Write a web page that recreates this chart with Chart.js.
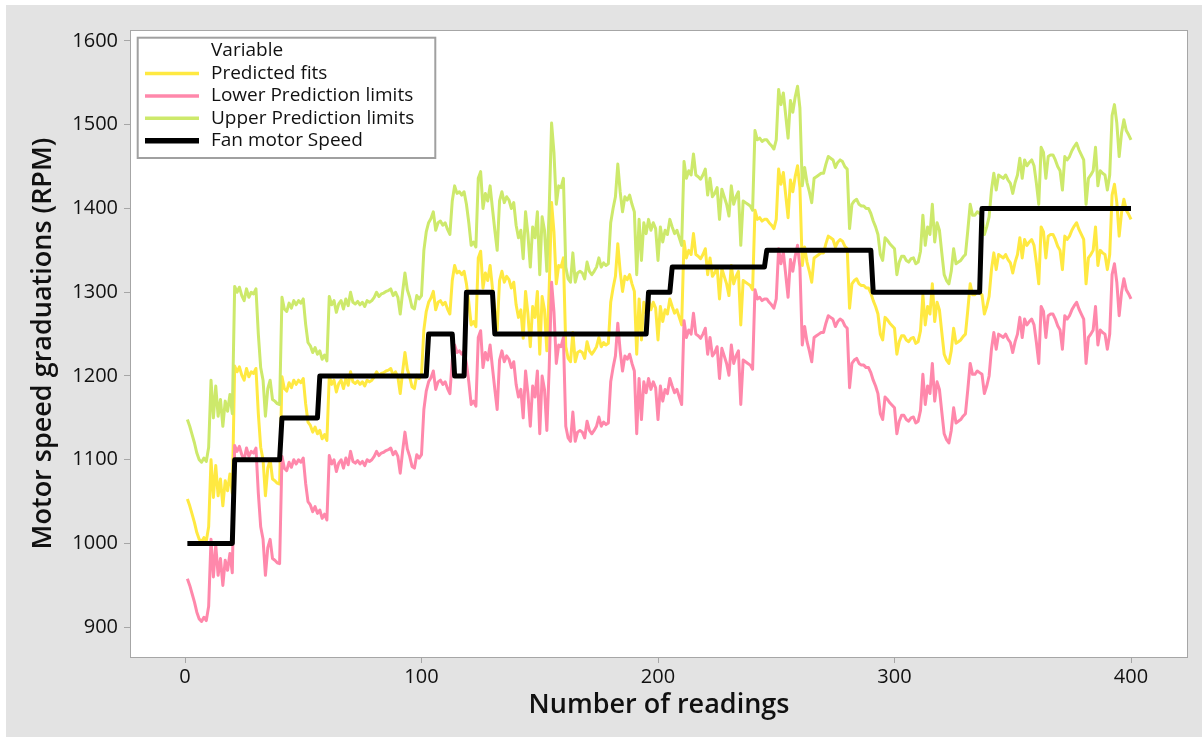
<!DOCTYPE html>
<html>
<head>
<meta charset="utf-8">
<script src="https://cdn.jsdelivr.net/npm/chart.js@4.4.1/dist/chart.umd.min.js"></script>
<style>
  html, body { margin: 0; padding: 0; background: #ffffff; }
  canvas { display: block; }
</style>
</head>
<body>
<canvas id="chart" width="1202" height="738"></canvas>
<script>
// Axis ticks
const xTickValues = [0, 100, 200, 300, 400];
const yTickValues = [900, 1000, 1100, 1200, 1300, 1400, 1500, 1600];

// Series names (legend order)
const seriesLabels = ['Predicted fits', 'Lower Prediction limits', 'Upper Prediction limits', 'Fan motor Speed'];

// Predicted fits, readings 1..400
const predictedFits = [
  1053,1045,1035,1025,1013,1005,1002,1007,1003,1020, 1100,1055,1093,1057,1077,1045,1075,1063,1083,1060,
  1212,1205,1211,1201,1195,1209,1199,1205,1203,1209, 1155,1115,1100,1057,1090,1100,1077,1075,1072,1071,
  1199,1185,1182,1192,1186,1195,1190,1195,1192,1197, 1167,1145,1141,1133,1139,1131,1135,1125,1130,1123,
  1200,1190,1195,1181,1191,1195,1185,1197,1189,1205, 1193,1191,1194,1190,1193,1188,1195,1193,1195,1199,
  1205,1200,1203,1204,1206,1207,1209,1201,1205,1199, 1179,1205,1228,1208,1199,1187,1185,1201,1197,1201,
  1255,1277,1288,1293,1301,1279,1288,1290,1285,1288, 1280,1274,1314,1332,1323,1325,1321,1325,1310,1288,
  1261,1265,1259,1341,1349,1305,1323,1314,1332,1305, 1279,1255,1314,1325,1312,1319,1315,1305,1312,1285,
  1270,1279,1245,1301,1274,1235,1283,1270,1301,1226, 1295,1279,1230,1305,1407,1372,1310,1332,1330,1341,
  1235,1221,1217,1252,1217,1228,1230,1228,1221,1241, 1230,1226,1230,1235,1246,1235,1240,1237,1239,1288,
  1305,1319,1358,1325,1301,1319,1315,1321,1310,1301, 1226,1292,1243,1288,1275,1292,1279,1288,1281,1243,
  1283,1265,1279,1274,1292,1283,1275,1279,1270,1261, 1361,1341,1350,1345,1370,1345,1343,1340,1345,1352,
  1321,1341,1319,1323,1330,1292,1328,1319,1310,1296, 1332,1310,1319,1325,1261,1314,1312,1310,1308,1303,
  1398,1387,1389,1385,1387,1387,1383,1380,1376,1387, 1447,1429,1443,1416,1389,1434,1420,1438,1451,1425,
  1332,1354,1336,1325,1312,1341,1343,1345,1347,1347, 1358,1367,1365,1363,1354,1360,1363,1361,1355,1352,
  1281,1310,1314,1316,1310,1308,1308,1305,1305,1299, 1290,1283,1274,1250,1243,1270,1267,1263,1260,1257,
  1226,1241,1248,1248,1243,1241,1245,1246,1239,1241, 1254,1297,1261,1283,1274,1310,1265,1288,1279,1252,
  1226,1219,1215,1230,1257,1239,1241,1243,1247,1250, 1279,1310,1297,1297,1301,1299,1297,1274,1283,1295,
  1327,1347,1327,1345,1343,1341,1345,1339,1335,1323, 1336,1345,1365,1341,1363,1356,1360,1363,1356,1335,
  1310,1378,1372,1341,1367,1369,1369,1363,1355,1350, 1327,1367,1363,1367,1374,1379,1383,1375,1369,1363,
  1310,1341,1345,1350,1378,1332,1350,1347,1345,1327, 1345,1416,1429,1407,1367,1395,1411,1398,1393,1387
];

// Lower prediction limits, readings 1..400
const lowerLimits = [
  958,950,940,930,918,910,907,912,908,925, 1005,960,998,962,982,950,980,968,988,965,
  1117,1110,1116,1106,1100,1114,1104,1110,1108,1114, 1060,1020,1005,962,995,1005,982,980,977,976,
  1104,1090,1087,1097,1091,1100,1095,1100,1097,1102, 1072,1050,1046,1038,1044,1036,1040,1030,1035,1028,
  1105,1095,1100,1086,1096,1100,1090,1102,1094,1110, 1098,1096,1099,1095,1098,1093,1100,1098,1100,1104,
  1110,1105,1108,1109,1111,1112,1114,1106,1110,1104, 1084,1110,1133,1113,1104,1092,1090,1106,1102,1106,
  1160,1182,1193,1198,1206,1184,1193,1195,1190,1193, 1185,1179,1219,1237,1228,1230,1226,1230,1215,1193,
  1166,1170,1164,1246,1254,1210,1228,1219,1237,1210, 1184,1160,1219,1230,1217,1224,1220,1210,1217,1190,
  1175,1184,1150,1206,1179,1140,1188,1175,1206,1131, 1200,1184,1135,1210,1312,1277,1215,1237,1235,1246,
  1140,1126,1122,1157,1122,1133,1135,1133,1126,1146, 1135,1131,1135,1140,1151,1140,1145,1142,1144,1193,
  1210,1224,1263,1230,1206,1224,1220,1226,1215,1206, 1131,1197,1148,1193,1180,1197,1184,1193,1186,1148,
  1188,1170,1184,1179,1197,1188,1180,1184,1175,1166, 1266,1246,1255,1250,1275,1250,1248,1245,1250,1257,
  1226,1246,1224,1228,1235,1197,1233,1224,1215,1201, 1237,1215,1224,1230,1166,1219,1217,1215,1213,1208,
  1303,1292,1294,1290,1292,1292,1288,1285,1281,1292, 1352,1334,1348,1321,1294,1339,1325,1343,1356,1330,
  1237,1259,1241,1230,1217,1246,1248,1250,1252,1252, 1263,1272,1270,1268,1259,1265,1268,1266,1260,1257,
  1186,1215,1219,1221,1215,1213,1213,1210,1210,1204, 1195,1188,1179,1155,1148,1175,1172,1168,1165,1162,
  1131,1146,1153,1153,1148,1146,1150,1151,1144,1146, 1159,1202,1166,1188,1179,1215,1170,1193,1184,1157,
  1131,1124,1120,1135,1162,1144,1146,1148,1152,1155, 1184,1215,1202,1202,1206,1204,1202,1179,1188,1200,
  1232,1252,1232,1250,1248,1246,1250,1244,1240,1228, 1241,1250,1270,1246,1268,1261,1265,1268,1261,1240,
  1215,1283,1277,1246,1272,1274,1274,1268,1260,1255, 1232,1272,1268,1272,1279,1284,1288,1280,1274,1268,
  1215,1246,1250,1255,1283,1237,1255,1252,1250,1232, 1250,1321,1334,1312,1272,1300,1316,1303,1298,1292
];

// Upper prediction limits, readings 1..400
const upperLimits = [
  1148,1140,1130,1120,1108,1100,1097,1102,1098,1115, 1195,1150,1188,1152,1172,1140,1170,1158,1178,1155,
  1307,1300,1306,1296,1290,1304,1294,1300,1298,1304, 1250,1210,1195,1152,1185,1195,1172,1170,1167,1166,
  1294,1280,1277,1287,1281,1290,1285,1290,1287,1292, 1262,1240,1236,1228,1234,1226,1230,1220,1225,1218,
  1295,1285,1290,1276,1286,1290,1280,1292,1284,1300, 1288,1286,1289,1285,1288,1283,1290,1288,1290,1294,
  1300,1295,1298,1299,1301,1302,1304,1296,1300,1294, 1274,1300,1323,1303,1294,1282,1280,1296,1292,1296,
  1350,1372,1383,1388,1396,1374,1383,1385,1380,1383, 1375,1369,1409,1427,1418,1420,1416,1420,1405,1383,
  1356,1360,1354,1436,1444,1400,1418,1409,1427,1400, 1374,1350,1409,1420,1407,1414,1410,1400,1407,1380,
  1365,1374,1340,1396,1369,1330,1378,1365,1396,1321, 1390,1374,1325,1400,1502,1467,1405,1427,1425,1436,
  1330,1316,1312,1347,1312,1323,1325,1323,1316,1336, 1325,1321,1325,1330,1341,1330,1335,1332,1334,1383,
  1400,1414,1453,1420,1396,1414,1410,1416,1405,1396, 1321,1387,1338,1383,1370,1387,1374,1383,1376,1338,
  1378,1360,1374,1369,1387,1378,1370,1374,1365,1356, 1456,1436,1445,1440,1465,1440,1438,1435,1440,1447,
  1416,1436,1414,1418,1425,1387,1423,1414,1405,1391, 1427,1405,1414,1420,1356,1409,1407,1405,1403,1398,
  1493,1482,1484,1480,1482,1482,1478,1475,1471,1482, 1542,1524,1538,1511,1484,1529,1515,1533,1546,1520,
  1427,1449,1431,1420,1407,1436,1438,1440,1442,1442, 1453,1462,1460,1458,1449,1455,1458,1456,1450,1447,
  1376,1405,1409,1411,1405,1403,1403,1400,1400,1394, 1385,1378,1369,1345,1338,1365,1362,1358,1355,1352,
  1321,1336,1343,1343,1338,1336,1340,1341,1334,1336, 1349,1392,1356,1378,1369,1405,1360,1383,1374,1347,
  1321,1314,1310,1325,1352,1334,1336,1338,1342,1345, 1374,1405,1392,1392,1396,1394,1392,1369,1378,1390,
  1422,1442,1422,1440,1438,1436,1440,1434,1430,1418, 1431,1440,1460,1436,1458,1451,1455,1458,1451,1430,
  1405,1473,1467,1436,1462,1464,1464,1458,1450,1445, 1422,1462,1458,1462,1469,1474,1478,1470,1464,1458,
  1405,1436,1440,1445,1473,1427,1445,1442,1440,1422, 1440,1511,1524,1502,1462,1490,1506,1493,1488,1482
];

// Fan motor speed set points, readings 1..400
const fanMotorSpeed = [
  1000,1000,1000,1000,1000,1000,1000,1000,1000,1000, 1000,1000,1000,1000,1000,1000,1000,1000,1000,1000,
  1100,1100,1100,1100,1100,1100,1100,1100,1100,1100, 1100,1100,1100,1100,1100,1100,1100,1100,1100,1100,
  1150,1150,1150,1150,1150,1150,1150,1150,1150,1150, 1150,1150,1150,1150,1150,1150,1200,1200,1200,1200,
  1200,1200,1200,1200,1200,1200,1200,1200,1200,1200, 1200,1200,1200,1200,1200,1200,1200,1200,1200,1200,
  1200,1200,1200,1200,1200,1200,1200,1200,1200,1200, 1200,1200,1200,1200,1200,1200,1200,1200,1200,1200,
  1200,1200,1250,1250,1250,1250,1250,1250,1250,1250, 1250,1250,1250,1200,1200,1200,1200,1200,1300,1300,
  1300,1300,1300,1300,1300,1300,1300,1300,1300,1300, 1250,1250,1250,1250,1250,1250,1250,1250,1250,1250,
  1250,1250,1250,1250,1250,1250,1250,1250,1250,1250, 1250,1250,1250,1250,1250,1250,1250,1250,1250,1250,
  1250,1250,1250,1250,1250,1250,1250,1250,1250,1250, 1250,1250,1250,1250,1250,1250,1250,1250,1250,1250,
  1250,1250,1250,1250,1250,1250,1250,1250,1250,1250, 1250,1250,1250,1250,1250,1300,1300,1300,1300,1300,
  1300,1300,1300,1300,1300,1330,1330,1330,1330,1330, 1330,1330,1330,1330,1330,1330,1330,1330,1330,1330,
  1330,1330,1330,1330,1330,1330,1330,1330,1330,1330, 1330,1330,1330,1330,1330,1330,1330,1330,1330,1330,
  1330,1330,1330,1330,1330,1350,1350,1350,1350,1350, 1350,1350,1350,1350,1350,1350,1350,1350,1350,1350,
  1350,1350,1350,1350,1350,1350,1350,1350,1350,1350, 1350,1350,1350,1350,1350,1350,1350,1350,1350,1350,
  1350,1350,1350,1350,1350,1350,1350,1350,1350,1350, 1300,1300,1300,1300,1300,1300,1300,1300,1300,1300,
  1300,1300,1300,1300,1300,1300,1300,1300,1300,1300, 1300,1300,1300,1300,1300,1300,1300,1300,1300,1300,
  1300,1300,1300,1300,1300,1300,1300,1300,1300,1300, 1300,1300,1300,1300,1300,1300,1400,1400,1400,1400,
  1400,1400,1400,1400,1400,1400,1400,1400,1400,1400, 1400,1400,1400,1400,1400,1400,1400,1400,1400,1400,
  1400,1400,1400,1400,1400,1400,1400,1400,1400,1400, 1400,1400,1400,1400,1400,1400,1400,1400,1400,1400,
  1400,1400,1400,1400,1400,1400,1400,1400,1400,1400, 1400,1400,1400,1400,1400,1400,1400,1400,1400,1400
];

// Reading numbers along the x axis
const readings = predictedFits.map((_, i) => i + 1);
const toPoints = values => values.map((v, i) => ({ x: readings[i], y: v }));

const FONT = '"Open Sans", "Noto Sans", "DejaVu Sans", sans-serif';
const TEXT = '#111111';
const FRAME_GREY = '#e3e3e3';
const AXIS_GREY = '#a6a6a6';

// Grey frame, white plotting region and its outline
const framePlugin = {
  id: 'frame',
  beforeDraw(chart) {
    const { ctx, chartArea: a } = chart;
    ctx.save();
    ctx.fillStyle = '#ffffff';
    ctx.fillRect(0, 0, chart.width, chart.height);
    ctx.fillStyle = FRAME_GREY;
    ctx.fillRect(6, 5, chart.width - 6, chart.height - 6);
    ctx.fillStyle = '#ffffff';
    ctx.fillRect(a.left, a.top, a.right - a.left, a.bottom - a.top);
    ctx.strokeStyle = AXIS_GREY;
    ctx.lineWidth = 1;
    ctx.strokeRect(a.left + 0.5, a.top + 0.5, a.right - a.left - 1, a.bottom - a.top);
    ctx.restore();
  }
};

// Boxed legend in the upper-left corner of the plot
const legendPlugin = {
  id: 'boxLegend',
  afterDraw(chart) {
    const { ctx } = chart;
    ctx.save();
    ctx.fillStyle = '#ffffff';
    ctx.fillRect(137.7, 37.7, 297.6, 120.3);
    ctx.strokeStyle = '#a0a0a0';
    ctx.lineWidth = 2;
    ctx.strokeRect(137.7, 37.7, 297.6, 120.3);
    ctx.font = '19px ' + FONT;
    ctx.fillStyle = TEXT;
    ctx.textBaseline = 'middle';
    ctx.textAlign = 'left';
    ctx.fillText('Variable', 211, 51);
    chart.data.datasets.forEach((ds, i) => {
      const y = 73.5 + i * 22.4;
      ctx.strokeStyle = ds.borderColor;
      ctx.lineWidth = ds.legendLineWidth;
      ctx.beginPath();
      ctx.moveTo(145, y);
      ctx.lineTo(199, y);
      ctx.stroke();
      ctx.fillStyle = TEXT;
      ctx.fillText(ds.label, 211, y);
    });
    ctx.restore();
  }
};

const lineStyle = (label, values, color, width, order, legendWidth) => ({
  label,
  data: toPoints(values),
  borderColor: color,
  backgroundColor: color,
  borderWidth: width,
  borderJoinStyle: 'round',
  pointRadius: 0,
  tension: 0,
  order,
  legendLineWidth: legendWidth
});

const plainNumber = v => String(v);

new Chart(document.getElementById('chart'), {
  type: 'line',
  data: {
    datasets: [
      lineStyle(seriesLabels[0], predictedFits, '#ffe941', 3, 3, 3.5),
      lineStyle(seriesLabels[1], lowerLimits, '#ff88ab', 3, 2, 3.5),
      lineStyle(seriesLabels[2], upperLimits, '#cde96b', 3, 1, 3.5),
      lineStyle(seriesLabels[3], fanMotorSpeed, '#000000', 5, 0, 5.5)
    ]
  },
  options: {
    responsive: false,
    animation: false,
    events: [],
    layout: { padding: { left: 0, top: 30, right: 14, bottom: 0 } },
    plugins: { legend: { display: false }, tooltip: { enabled: false } },
    scales: {
      x: {
        type: 'linear',
        min: -23.26,
        max: 424.1,
        afterBuildTicks: s => { s.ticks = xTickValues.map(v => ({ value: v })); },
        afterFit: s => { s.height = 81; },
        grid: { drawOnChartArea: false, drawTicks: true, tickLength: 6, tickColor: AXIS_GREY, color: AXIS_GREY },
        border: { display: false },
        ticks: { color: TEXT, font: { family: FONT, size: 20 }, padding: 2, maxRotation: 0, callback: plainNumber },
        title: {
          display: true,
          text: 'Number of readings',
          color: TEXT,
          font: { family: FONT, size: 27, weight: '600' },
          padding: { top: 0, bottom: 16 }
        }
      },
      y: {
        type: 'linear',
        min: 864.5,
        max: 1613.1,
        afterBuildTicks: s => { s.ticks = yTickValues.map(v => ({ value: v })); },
        afterFit: s => { s.width = 130; },
        grid: { drawOnChartArea: false, drawTicks: true, tickLength: 6, tickColor: AXIS_GREY, color: AXIS_GREY },
        border: { display: false },
        ticks: { color: TEXT, font: { family: FONT, size: 20 }, padding: 6, callback: plainNumber },
        title: {
          display: true,
          text: 'Motor speed graduations (RPM)',
          color: TEXT,
          font: { family: FONT, size: 27, weight: '600' },
          padding: { top: 27, bottom: 0 }
        }
      }
    }
  },
  plugins: [framePlugin, legendPlugin]
});
</script>
</body>
</html>
